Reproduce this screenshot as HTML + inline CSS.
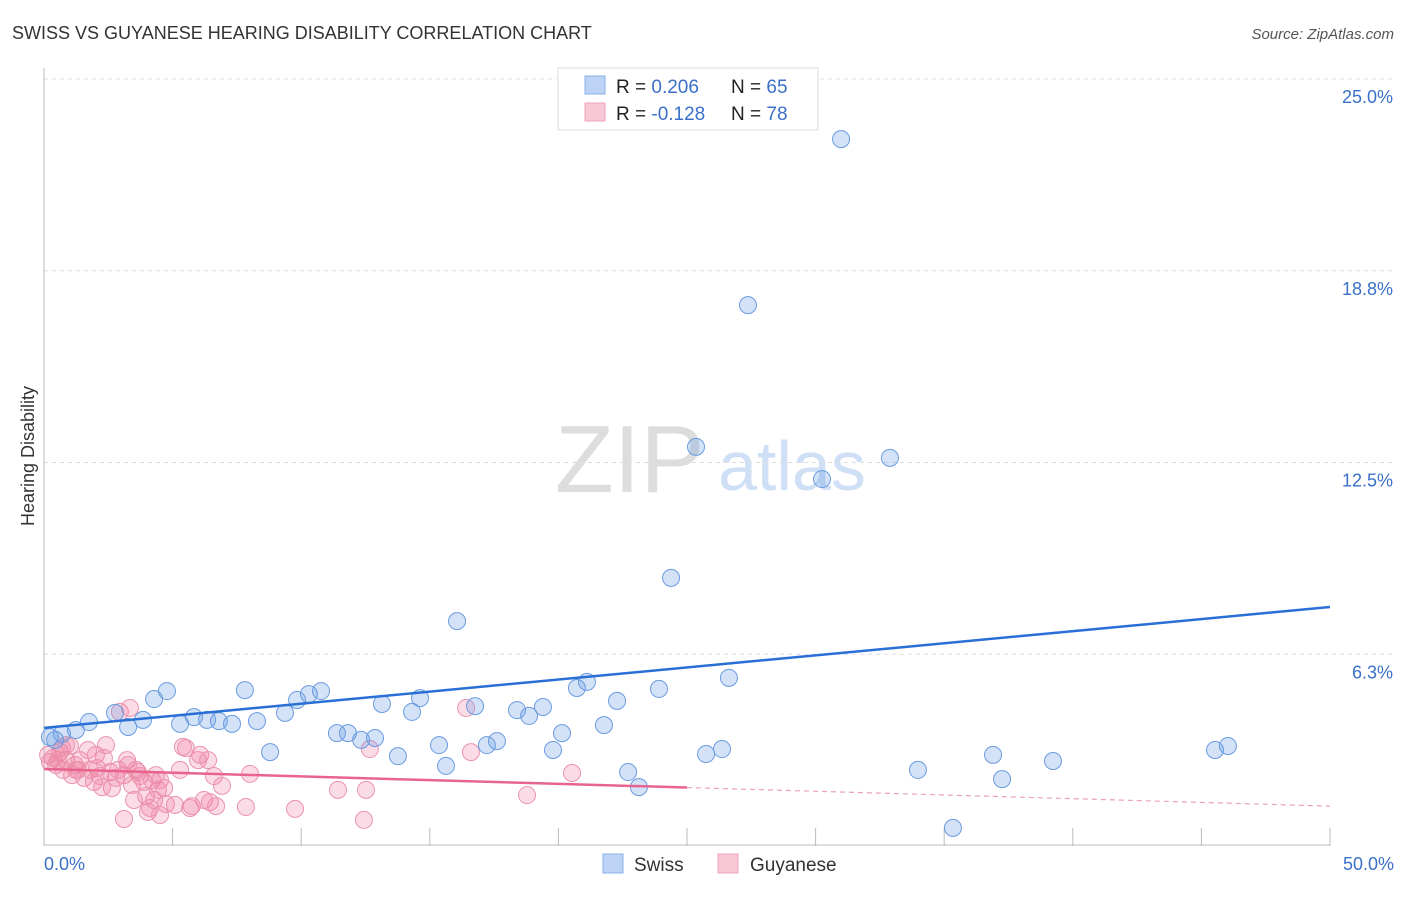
<!DOCTYPE html>
<html><head><meta charset="utf-8"><style>
body{margin:0;background:#fff;font-family:"Liberation Sans",sans-serif}
svg text{font-family:"Liberation Sans",sans-serif}
</style></head><body>
<svg id="c" width="1406" height="892" xmlns="http://www.w3.org/2000/svg">
<text x="12" y="39" font-size="18" fill="#333">SWISS VS GUYANESE HEARING DISABILITY CORRELATION CHART</text>
<text x="1394" y="39" font-size="15" fill="#555" font-style="italic" text-anchor="end">Source: ZipAtlas.com</text>
<text x="555" y="492" font-size="96" fill="#ddd" font-family="Liberation Serif,serif">ZIP</text>
<text x="718" y="490" font-size="70" fill="#cfdff5">atlas</text>
<text transform="translate(34,456) rotate(-90)" font-size="18" fill="#333" text-anchor="middle">Hearing Disability</text>
<g id="grid"></g><g id="pts"></g><g id="lines"></g>
<g>
<rect x="558" y="68" width="260" height="62" fill="#fff" stroke="#ddd"/>
<rect x="585" y="76" width="20" height="18" fill="#bcd3f5" stroke="#8ab0e8"/>
<rect x="585" y="103" width="20" height="18" fill="#f9c8d6" stroke="#f0a0b8"/>
<text x="616" y="93" font-size="19" fill="#222">R = <tspan fill="#3a70c8">0.206</tspan><tspan x="731">N = </tspan><tspan fill="#3a70c8">65</tspan></text>
<text x="616" y="120" font-size="19" fill="#222">R = <tspan fill="#3a70c8">-0.128</tspan><tspan x="731">N = </tspan><tspan fill="#3a70c8">78</tspan></text>
</g>
<g>
<rect x="603" y="854" width="20" height="19" fill="#bcd3f5" stroke="#8ab0e8"/>
<text x="634" y="871" font-size="19" fill="#333">Swiss</text>
<rect x="718" y="854" width="20" height="19" fill="#f9c8d6" stroke="#f0a0b8"/>
<text x="750" y="871" font-size="19" fill="#333">Guyanese</text>
</g>
</svg>
<script>
const xTicks=["0.0%","50.0%"];
const yTickVals=[6.25,12.5,18.75,25];
const yTickLabels=["6.3%","12.5%","18.8%","25.0%"];
const swissPx=[[688,82],[841,139],[748,305],[696,447],[890,458],[822,479],[671,578],[457,621],[587,682],[577,688],[659,689],[729,678],[617,701],[543,707],[529,716],[517,710],[475,706],[420,698],[412,712],[382,704],[321,691],[309,694],[297,700],[285,713],[245,690],[167,691],[154,699],[115,713],[89,722],[76,730],[62,734],[50,737],[128,727],[143,720],[180,724],[194,717],[207,720],[219,721],[232,724],[257,721],[270,752],[337,733],[348,733],[361,740],[375,738],[398,756],[439,745],[446,766],[487,745],[497,741],[553,750],[562,733],[604,725],[628,772],[639,787],[706,754],[722,749],[918,770],[953,828],[993,755],[1002,779],[1053,761],[1215,750],[1228,746],[55,740]];
const guyPx=[[48,755],[50,762],[53,758],[56,765],[60,752],[63,770],[66,760],[70,746],[72,775],[75,765],[78,770],[80,760],[84,778],[88,750],[90,770],[94,782],[97,768],[100,776],[104,758],[106,745],[110,772],[112,788],[116,778],[118,770],[120,712],[124,775],[127,760],[130,708],[132,785],[134,800],[136,770],[138,772],[140,776],[144,782],[146,796],[150,808],[152,780],[154,800],[156,775],[158,790],[160,780],[164,788],[166,804],[175,805],[180,770],[183,747],[186,748],[190,808],[192,806],[198,760],[200,755],[204,800],[208,760],[210,802],[214,776],[216,806],[222,786],[246,807],[250,774],[295,809],[338,790],[364,820],[366,790],[370,749],[466,708],[471,752],[527,795],[572,773],[124,819],[148,812],[58,760],[62,748],[96,755],[102,787],[66,745],[76,770],[128,765],[160,815]];
// data values (x %, y %)
const swissX=swissPx.map(p=>+((p[0]-44)/25.72).toFixed(2));
const swissY=swissPx.map(p=>+((846-p[1])/30.68).toFixed(2));
const guyX=guyPx.map(p=>+((p[0]-44)/25.72).toFixed(2));
const guyY=guyPx.map(p=>+((846-p[1])/30.68).toFixed(2));
const swissTrend=[3.85,7.79];
const guyTrend=[2.51,1.30];
const NS="http://www.w3.org/2000/svg";
const X=v=>44+v/50*1286, Y=v=>846-v/25*767;
function mk(t,a,p){const e=document.createElementNS(NS,t);for(const k in a)e.setAttribute(k,a[k]);p.appendChild(e);return e;}
const g=document.getElementById('grid');
yTickVals.forEach((v,i)=>{
 const l=mk('line',{x1:44,x2:1394,y1:Y(v),y2:Y(v),stroke:'#ddd','stroke-dasharray':'4,4'},g);
 
 
 const t=mk('text',{x:1393,y:Y(v)+24,'font-size':18,fill:'#3a70c8','text-anchor':'end'},g);t.textContent=yTickLabels[i];
 
 
});
mk('line',{x1:44,x2:44,y1:68,y2:846,stroke:'#bbb'},g);
mk('line',{x1:44,x2:1330,y1:845,y2:845,stroke:'#bbb'},g);
for(let i=1;i<=10;i++){const x=X(i*5);const l=mk('line',{x1:x,x2:x,y1:828,y2:846,stroke:'#bbb'},g);
 
 }
[[0,'start',44],[1,'end',1394]].forEach(([i,a,x])=>{const t=mk('text',{x:x,y:870,'font-size':18,fill:'#3a70c8','text-anchor':a},g);t.textContent=xTicks[i];
 
 });
const pg=document.getElementById('pts');
guyX.forEach((x,i)=>{const c=mk('circle',{cx:X(x),cy:Y(guyY[i]),r:8.5,fill:'rgba(240,130,165,0.28)',stroke:'#eb93ad','stroke-width':1},pg);
 
 });
swissX.forEach((x,i)=>{const c=mk('circle',{cx:X(x),cy:Y(swissY[i]),r:8.5,fill:'rgba(110,160,230,0.3)',stroke:'#6a9be0','stroke-width':1},pg);
 
 });
const lg=document.getElementById('lines');
let l=mk('line',{x1:X(0),y1:Y(swissTrend[0]),x2:X(50),y2:Y(swissTrend[1]),stroke:'#2a6fd6','stroke-width':2.5},lg);


const gm=guyTrend[0]+(guyTrend[1]-guyTrend[0])*0.5;
l=mk('line',{x1:X(0),y1:Y(guyTrend[0]),x2:X(25),y2:Y(gm),stroke:'#e8648e','stroke-width':2.5},lg);


l=mk('line',{x1:X(25),y1:Y(gm),x2:X(50),y2:Y(guyTrend[1]),stroke:'#eba0b8','stroke-width':1.2,'stroke-dasharray':'5,4'},lg);


</script>
</body></html>
